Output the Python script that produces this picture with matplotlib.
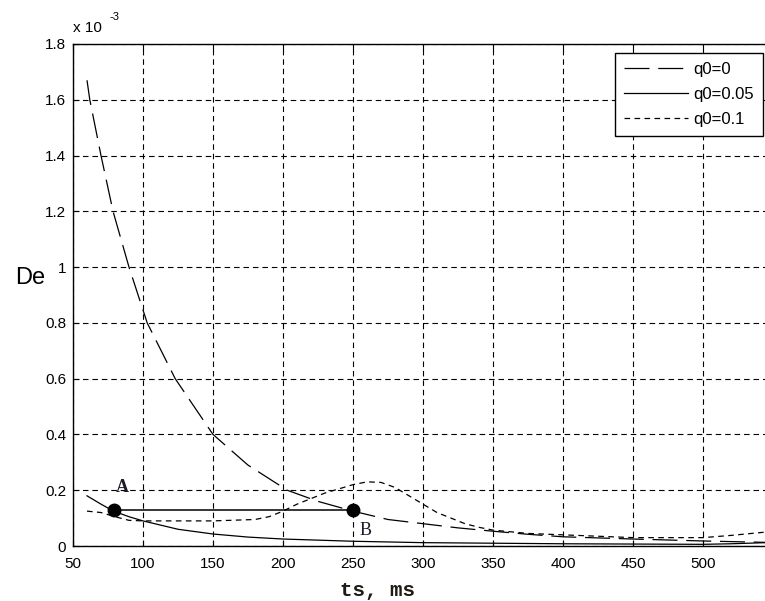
import numpy as np
import matplotlib
matplotlib.use('Agg')
import matplotlib.pyplot as plt
from matplotlib.ticker import FuncFormatter, MultipleLocator

plt.rcParams['font.family'] = ['Liberation Sans', 'DejaVu Sans']

## data (De in units of 1e-3)
ts_q0 = [60, 62, 70, 78.6, 90, 103, 123, 150, 175, 203, 225, 250, 275, 300, 325, 350, 375, 400, 450, 500, 545]
de_q0 = [1.67, 1.6, 1.4, 1.2, 1.0, 0.8, 0.6, 0.4, 0.29, 0.2, 0.16, 0.125, 0.095, 0.08, 0.065, 0.053, 0.042, 0.033, 0.025, 0.018, 0.013]

ts_q005 = [60, 70, 79, 90, 100, 125, 150, 175, 200, 250, 300, 400, 500, 520, 545]
de_q005 = [0.18, 0.15, 0.125, 0.105, 0.09, 0.06, 0.043, 0.032, 0.025, 0.017, 0.012, 0.008, 0.006, 0.008, 0.012]

ts_q01 = [60, 70, 80, 90, 100, 150, 180, 190, 200, 210, 220, 230, 240, 250, 260, 270, 280, 290, 300, 310, 320, 330, 340, 350, 375, 400, 450, 500, 520, 545]
de_q01 = [0.125, 0.12, 0.105, 0.092, 0.09, 0.09, 0.095, 0.105, 0.125, 0.15, 0.17, 0.19, 0.205, 0.22, 0.23, 0.228, 0.21, 0.18, 0.15, 0.12, 0.1, 0.08, 0.067, 0.057, 0.045, 0.04, 0.03, 0.03, 0.038, 0.05]

ab_ts = [79, 250]
ab_de = [0.128, 0.128]
labels = ['q0=0', 'q0=0.05', 'q0=0.1']
xticks = [50, 100, 150, 200, 250, 300, 350, 400, 450, 500]

fig = plt.figure(figsize=(7.65, 6.01), dpi=100)
ax = fig.add_axes([73/765, 1-546/601, 700/765, (546-44)/601])

ax.plot(ts_q0, de_q0, color='k', lw=0.9, linestyle=(0, (20, 7)), label=labels[0])
ax.plot(ts_q005, de_q005, color='k', lw=0.9, label=labels[1])
ax.plot(ts_q01, de_q01, color='k', lw=0.9, linestyle=(0, (4.5, 3.5)), label=labels[2])

ax.plot(ab_ts, ab_de, color='k', lw=1.1, marker='o', markersize=9)
ax.text(ab_ts[0] + 6.5, 0.208, 'A', fontsize=13, family='Liberation Serif', fontweight='bold',
        color='#1a1a2a', ha='center', va='center')
ax.text(ab_ts[1] + 9, 0.057, 'B', fontsize=13, family='Liberation Serif',
        color='#1a1a2a', ha='center', va='center')

ax.set_xlim(50, 550)
ax.set_ylim(0, 1.8)
ax.set_xticks(xticks)
ax.yaxis.set_major_locator(MultipleLocator(0.2))
ax.yaxis.set_major_formatter(FuncFormatter(lambda v, p: f'{v:g}'))
ax.set_axisbelow(True)
ax.grid(True, color='k', linestyle=(0, (5, 3.5)), linewidth=0.8)
ax.tick_params(direction='in', top=True, right=True, length=4, width=0.8, labelsize=11)
ax.tick_params(axis='x', pad=8)
ax.tick_params(axis='y', pad=5)
for s in ax.spines.values():
    s.set_linewidth(1.0)

# exponent text and labels
fig.text(73/765, 1-28/601, 'x 10', fontsize=11, ha='left', va='center')
fig.text(110/765, 1-17/601, '-3', fontsize=8, ha='left', va='center')
fig.text(30/765, 1-278/601, 'De', fontsize=17, ha='center', va='center')
fig.text(378/765, 1-591/601, 'ts, ms', fontsize=15, family='Liberation Mono', fontweight='bold',
         color='#1e1a14', ha='center', va='center')

leg = ax.legend(loc='upper left', bbox_to_anchor=(615/765, 1-53/601), bbox_transform=fig.transFigure,
                borderaxespad=0, fontsize=12, handlelength=3.8, handletextpad=0.35,
                labelspacing=0.6, borderpad=0.55, fancybox=False, framealpha=1)
leg.get_frame().set_edgecolor('k')
leg.get_frame().set_linewidth(1.0)

plt.savefig('out.png', dpi=100)
